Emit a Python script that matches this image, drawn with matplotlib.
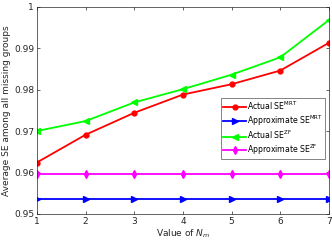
import matplotlib
matplotlib.use("Agg")
import matplotlib.pyplot as plt

x = [1, 2, 3, 4, 5, 6, 7]
actual_mrt = [0.9624, 0.9691, 0.9744, 0.9788, 0.9813, 0.9846, 0.9913]
approx_mrt = [0.9537, 0.9537, 0.9537, 0.9537, 0.9537, 0.9537, 0.9537]
actual_zf = [0.9700, 0.9724, 0.9769, 0.9801, 0.9836, 0.9878, 0.9968]
approx_zf = [0.9596, 0.9596, 0.9596, 0.9596, 0.9596, 0.9596, 0.9596]
yticks = [0.95, 0.96, 0.97, 0.98, 0.99, 1.0]
ytick_labels = ["0.95", "0.96", "0.97", "0.98", "0.99", "1"]

fig = plt.figure(figsize=(3.32, 2.49), dpi=100)
ax = fig.add_axes([0.111, 0.141, 0.880, 0.832])
fs = 6.5
ax.plot(x, actual_mrt, color="#ff0000", marker="o", ms=3.5, lw=1.3, label=r"Actual SE$^{\mathrm{MRT}}$")
ax.plot(x, approx_mrt, color="#0000ff", marker=">", ms=4.5, lw=1.3, label=r"Approximate SE$^{\mathrm{MRT}}$")
ax.plot(x, actual_zf, color="#00ff00", marker="<", ms=4.5, lw=1.3, label=r"Actual SE$^{\mathrm{ZF}}$")
ax.plot(x, approx_zf, color="#ff00ff", marker="d", ms=4, lw=1.3, label=r"Approximate SE$^{\mathrm{ZF}}$")

ax.set_xlim(1, 7)
ax.set_ylim(0.95, 1.0)
ax.set_xticks(x)
ax.set_yticks(yticks)
ax.set_yticklabels(ytick_labels)
ax.tick_params(direction="in", labelsize=fs, length=2, width=0.5, top=True, right=True, pad=2, colors="#262626")
for s in ax.spines.values():
    s.set_linewidth(0.5)
    s.set_color("#262626")
ax.set_xlabel(r"Value of $N_m$", fontsize=fs, labelpad=1, color="#262626")
ax.set_ylabel("Average SE among all missing groups", fontsize=fs, labelpad=2, color="#262626")
leg = ax.legend(loc="upper right", bbox_to_anchor=(0.986, 0.56), fontsize=5.6, frameon=True,
                fancybox=False, edgecolor="#262626", borderpad=0.25, labelspacing=0.15,
                handlelength=2.9, handletextpad=0.15, borderaxespad=0)
leg.get_frame().set_linewidth(0.5)
fig.savefig("out.png", dpi=100)
